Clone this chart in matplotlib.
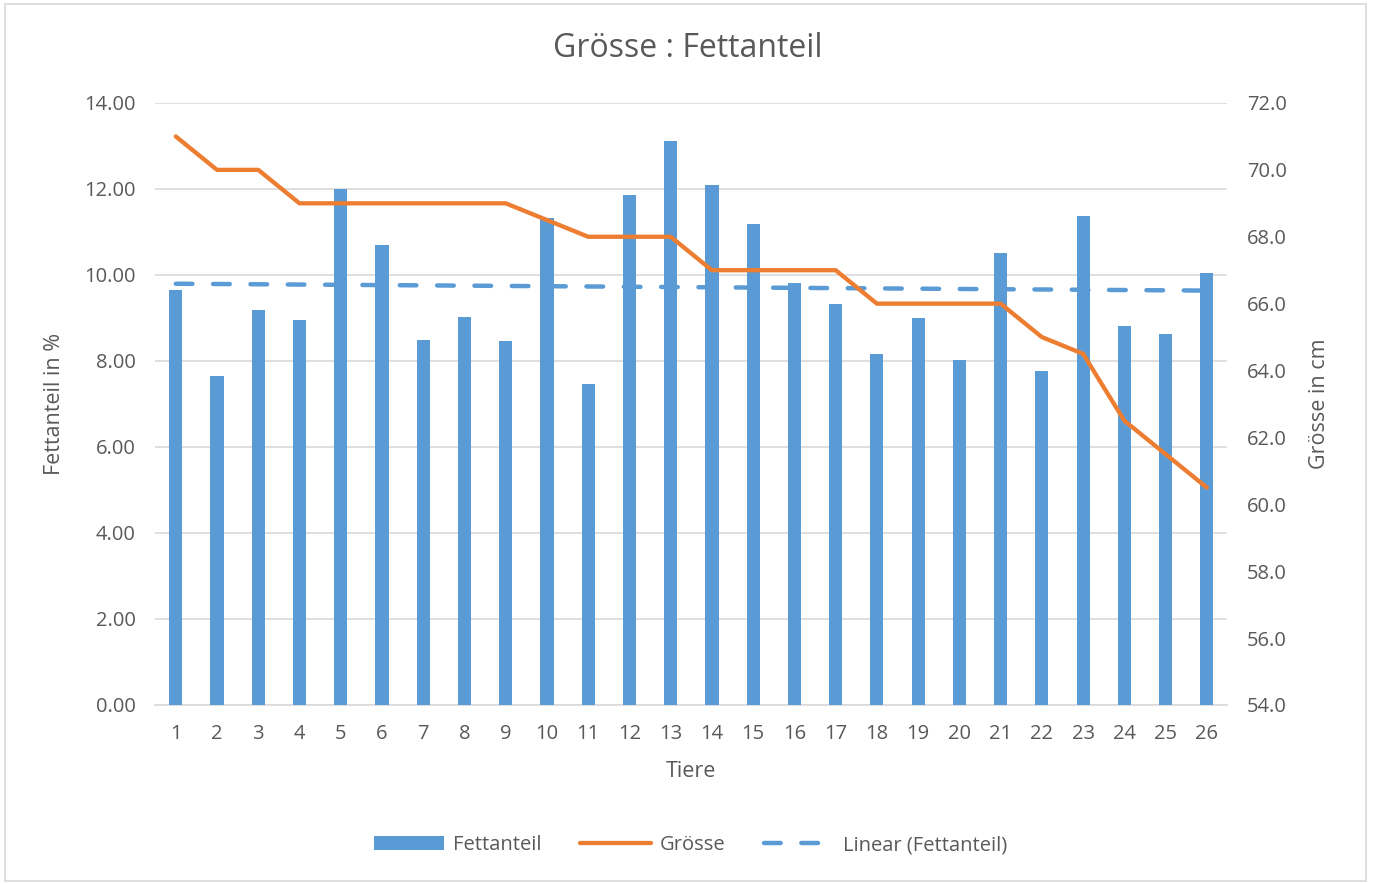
import numpy as np
import matplotlib
matplotlib.use('Agg')
import matplotlib.pyplot as plt
from matplotlib.patches import Rectangle

plt.rcParams['font.family'] = ['Open Sans', 'DejaVu Sans']

# Daten
tiere = list(range(1, 27))
fettanteil = [9.65, 7.65, 9.19, 8.95, 12.00, 10.70, 8.49, 9.02, 8.47, 11.33,
              7.47, 11.86, 13.12, 12.09, 11.19, 9.81, 9.33, 8.16, 9.00, 8.02,
              10.51, 7.77, 11.37, 8.81, 8.63, 10.05]
groesse = [71.0, 70.0, 70.0, 69.0, 69.0, 69.0, 69.0, 69.0, 69.0, 68.5,
           68.0, 68.0, 68.0, 67.0, 67.0, 67.0, 67.0, 66.0, 66.0, 66.0,
           66.0, 65.0, 64.5, 62.5, 61.5, 60.5]

BLAU = '#5B9BD5'
ORANGE = '#ED7D31'
GRAU = '#595959'
GITTER = '#D9D9D9'

fig = plt.figure(figsize=(13.73, 8.84), dpi=100)
ax = fig.add_axes([0.113, 0.2025, 0.781, 0.681])

# Rahmen um das Diagramm
fig.patches.append(Rectangle((0.004, 0.003), 0.991, 0.992, transform=fig.transFigure,
                             fill=False, edgecolor='#D9D9D9', linewidth=1.2))

x = np.array(tiere)
ax.bar(x, fettanteil, width=0.32, color=BLAU, zorder=3, label='Fettanteil')

# lineare Trendlinie (liegt hinter den Balken)
m, b = np.polyfit(x, fettanteil, 1)
ax.plot(x, m * x + b, color=BLAU, linestyle=(0, (3.75, 4.65)), linewidth=3.2,
        dash_capstyle='round', zorder=2, label='Linear (Fettanteil)')

ax.set_ylim(0, 14)
ax.set_yticks(np.arange(0, 14.01, 2))
ax.set_yticklabels([f'{v:.2f}' for v in np.arange(0, 14.01, 2)])
ax.set_xlim(0.5, 26.5)
ax.set_xticks(x)
ax.grid(axis='y', color=GITTER, linewidth=1.2, zorder=0)
ax.set_axisbelow(True)

ax2 = ax.twinx()
ax2.plot(x, groesse, color=ORANGE, linewidth=3.1, solid_joinstyle='round',
         solid_capstyle='round', zorder=4, label='Grösse')
ax2.set_ylim(54, 72)
ax2.set_yticks(np.arange(54, 72.01, 2))
ax2.set_yticklabels([f'{v:.1f}' for v in np.arange(54, 72.01, 2)])

for a in (ax, ax2):
    for s in a.spines.values():
        s.set_visible(False)
    a.tick_params(length=0, colors=GRAU, labelsize=14.5, pad=14)
ax.spines['bottom'].set_visible(True)
ax.spines['bottom'].set_color(GITTER)
ax.spines['bottom'].set_linewidth(1.2)
ax.tick_params(axis='x', pad=14)

ax.set_xlabel('Tiere', fontsize=15.5, color=GRAU, labelpad=12)
ax.set_ylabel('Fettanteil in %', fontsize=15.5, color=GRAU, labelpad=14)
ax2.set_ylabel('Grösse in cm', fontsize=15.5, color=GRAU, labelpad=16)

fig.text(0.501, 0.945, 'Grösse : Fettanteil', ha='center', va='center',
         fontsize=23, color=GRAU)

h1, l1 = ax.get_legend_handles_labels()
h2, l2 = ax2.get_legend_handles_labels()
handles = [h1[1], h2[0], h1[0]]
labels = [l1[1], l2[0], l1[0]]
fig.legend(handles, labels, loc='center', bbox_to_anchor=(0.503, 0.044), ncol=3,
           frameon=False, fontsize=14.5, labelcolor=GRAU, handlelength=3.5,
           columnspacing=1.9, handletextpad=0.45)

fig.savefig('out.png', dpi=100)
